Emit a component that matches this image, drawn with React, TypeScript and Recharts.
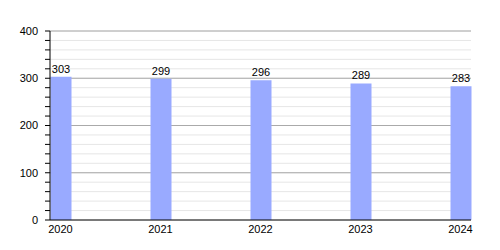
import React from 'react';
import { BarChart, Bar, XAxis, YAxis, CartesianGrid, LabelList } from 'recharts';

const years = [2020, 2021, 2022, 2023, 2024];
const values = [303, 299, 296, 289, 283];
const yTicks = [0, 20, 40, 60, 80, 100, 120, 140, 160, 180, 200, 220, 240, 260, 280, 300, 320, 340, 360, 380, 400];
const majorTicks = [100, 200, 300, 400];

const data = years.map((y, i) => ({ year: y, value: values[i] }));

const font = { fontFamily: '"Liberation Sans", Arial, sans-serif', fontSize: 11, fill: '#000' };

export default function App() {
  return (
    <div style={{ position: 'absolute', left: 0, top: 0, width: 500, height: 250, background: '#fff' }}>
      <BarChart width={500} height={250} data={data} margin={{ top: 31, right: 29, bottom: 0, left: 0 }}>
        <CartesianGrid horizontal vertical={false} stroke="#e6e6e6" horizontalValues={yTicks} />
        <CartesianGrid horizontal vertical={false} stroke="#aaaaaa" horizontalValues={majorTicks} />
        <XAxis
          dataKey="year"
          type="number"
          domain={[2020, 2024]}
          ticks={years}
          padding={{ left: 10.5, right: 10.5 }}
          tickLine={false}
          tickSize={3}
          tickMargin={2}
          height={30}
          axisLine={{ stroke: '#000' }}
          tick={font}
          interval={0}
        />
        <YAxis
          type="number"
          domain={[0, 400]}
          ticks={yTicks}
          interval={0}
          width={50}
          tickSize={5}
          tickMargin={7}
          axisLine={{ stroke: '#000' }}
          tickLine={{ stroke: '#000' }}
          tick={font}
          tickFormatter={(v: number) => (v % 100 === 0 ? String(v) : '')}
        />
        <Bar dataKey="value" fill="#99aaff" barSize={21} isAnimationActive={false}>
          <LabelList dataKey="value" position="top" offset={4} style={font} />
        </Bar>
      </BarChart>
    </div>
  );
}
